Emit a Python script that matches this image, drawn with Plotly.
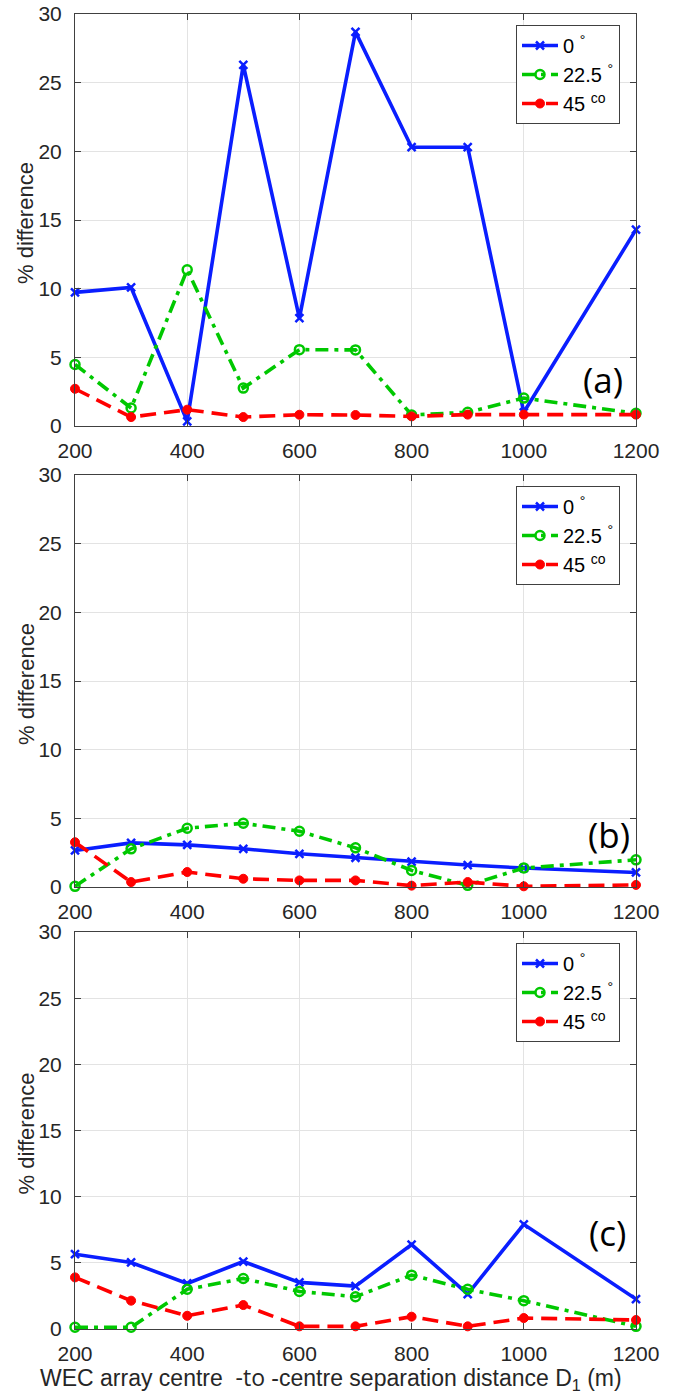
import plotly.graph_objects as go

# ---- data ----
distance = [200, 300, 400, 500, 600, 700, 800, 900, 1000, 1200]
series_names = ["0 <sup>°</sup>", "22.5 <sup>°</sup>", "45 <sup>c</sup><sup>o</sup>"]

a_0 = [9.73, 10.09, 0.34, 26.3, 7.86, 28.7, 20.3, 20.3, 1.0, 14.3]
a_22 = [4.48, 1.31, 11.37, 2.76, 5.56, 5.54, 0.8, 1.0, 2.03, 0.92]
a_45 = [2.71, 0.65, 1.19, 0.65, 0.82, 0.8, 0.7, 0.83, 0.83, 0.83]

b_0 = [2.66, 3.21, 3.07, 2.78, 2.42, 2.13, 1.84, 1.6, 1.38, 1.06]
b_22 = [0.05, 2.78, 4.28, 4.64, 4.06, 2.85, 1.21, 0.12, 1.38, 1.98]
b_45 = [3.26, 0.36, 1.09, 0.6, 0.48, 0.48, 0.1, 0.36, 0.05, 0.15]

c_0 = [5.65, 5.03, 3.44, 5.1, 3.52, 3.24, 6.38, 2.64, 7.91, 2.26]
c_22 = [0.13, 0.13, 3.0, 3.82, 2.84, 2.44, 4.07, 3.0, 2.14, 0.2]
c_45 = [3.9, 2.14, 1.0, 1.81, 0.2, 0.2, 0.93, 0.2, 0.83, 0.68]

panel_labels = ["(a)", "(b)", "(c)"]
panel_label_pos = [(1142, 3.4), (1152, 3.8), (1150, 7.3)]

x_ticks = [200, 400, 600, 800, 1000, 1200]
y_ticks = [0, 5, 10, 15, 20, 25, 30]
y_title = "% difference"
x_title = "WEC array centre  <span style=\"font-family:Open Sans\">-to</span> -centre separation distance D<sub>1</sub> (m)"

panels = [(a_0, a_22, a_45), (b_0, b_22, b_45), (c_0, c_22, c_45)]

# ---- styling ----
W, H = 674, 1394
px_l, px_r = 75, 636
tops = [14, 475, 932]
bottoms = [426, 887, 1329]
ml, mr, mt, mb = px_l, W - px_r, tops[0], H - bottoms[-1]
plot_h = H - mt - mb

def py(px):
    return (bottoms[-1] - px) / plot_h

def pxf(px):
    return (px - px_l) / (px_r - px_l)

styles = [
    dict(color="#0A1EFF", dash="solid", symbol="x-thin-open", msize=8, mlw=2.5),
    dict(color="#00C800", dash="13px,6px,4px,6px", symbol="circle-open", msize=9, mlw=2.5),
    dict(color="#FF0000", dash="16px,8px", symbol="circle", msize=9, mlw=1),
]

fig = go.Figure()
font_main = "Liberation Sans, Arial, sans-serif"

for i, vals in enumerate(panels):
    xa = "x" if i == 0 else f"x{i+1}"
    ya = "y" if i == 0 else f"y{i+1}"
    lg = "legend" if i == 0 else f"legend{i+1}"
    for j, v in enumerate(vals):
        s = styles[j]
        fig.add_trace(go.Scatter(
            x=distance, y=v, mode="lines+markers", name=series_names[j],
            xaxis=xa, yaxis=ya, legend=lg,
            line=dict(color=s["color"], width=3.6, dash=s["dash"]),
            marker=dict(symbol=s["symbol"], size=s["msize"], color=s["color"],
                        line=dict(color=s["color"], width=s["mlw"])),
            cliponaxis=False,
        ))
    lx, ly = panel_label_pos[i]
    fig.add_annotation(x=lx, y=ly, xref=xa, yref=ya, text=panel_labels[i],
                       showarrow=False, font=dict(family="Open Sans, sans-serif", size=35, color="black"))
    # y-axis title for this panel
    fig.add_annotation(x=-(px_l - 26) / (px_r - px_l), y=py((tops[i] + bottoms[i]) / 2 + 3),
                       xref="paper", yref="paper", text=y_title, textangle=-90,
                       showarrow=False, xanchor="center", yanchor="middle",
                       font=dict(family=font_main, size=22, color="#262626"))

fig.add_annotation(x=pxf(331), y=py(1377), xref="paper", yref="paper", text=x_title,
                   showarrow=False, xanchor="center", yanchor="middle",
                   font=dict(family=font_main, size=23, color="#262626"))

layout = dict(
    width=W, height=H,
    margin=dict(l=ml, r=mr, t=mt, b=mb, autoexpand=False),
    plot_bgcolor="white", paper_bgcolor="white",
    font=dict(family=font_main, size=20, color="#262626"),
    showlegend=True,
)

for i in range(3):
    xk = "xaxis" if i == 0 else f"xaxis{i+1}"
    yk = "yaxis" if i == 0 else f"yaxis{i+1}"
    ya = "y" if i == 0 else f"y{i+1}"
    xa = "x" if i == 0 else f"x{i+1}"
    layout[xk] = dict(
        domain=[0, 1], anchor=ya, range=[200, 1200], tickvals=x_ticks,
        showgrid=True, gridcolor="#E3E3E3", gridwidth=1,
        showline=True, linecolor="#404040", linewidth=1, mirror="ticks",
        ticks="inside", ticklen=6, tickcolor="#404040",
        zeroline=False, tickfont=dict(size=21, color="#262626"),
        ticklabelstandoff=6,
    )
    layout[yk] = dict(
        domain=[py(bottoms[i]), py(tops[i])], anchor=xa, range=[0, 30], tickvals=y_ticks,
        showgrid=True, gridcolor="#E3E3E3", gridwidth=1,
        showline=True, linecolor="#404040", linewidth=1, mirror="ticks",
        ticks="inside", ticklen=6, tickcolor="#404040",
        zeroline=False, tickfont=dict(size=21, color="#262626"),
        ticklabelstandoff=8,
    )
    lk = "legend" if i == 0 else f"legend{i+1}"
    layout[lk] = dict(
        x=pxf(516), y=py(tops[i] + 11), xanchor="left", yanchor="top",
        bgcolor="white", bordercolor="#404040", borderwidth=1,
        font=dict(size=20, color="black"), itemwidth=36, tracegroupgap=0,
    )

fig.update_layout(**layout)
# remove the default 8px page margin so the 674x1394 figure fills the window exactly
fig.write_html("out.html", config={"displayModeBar": False},
               post_script="document.body.style.margin='0';document.body.style.overflow='hidden';")
